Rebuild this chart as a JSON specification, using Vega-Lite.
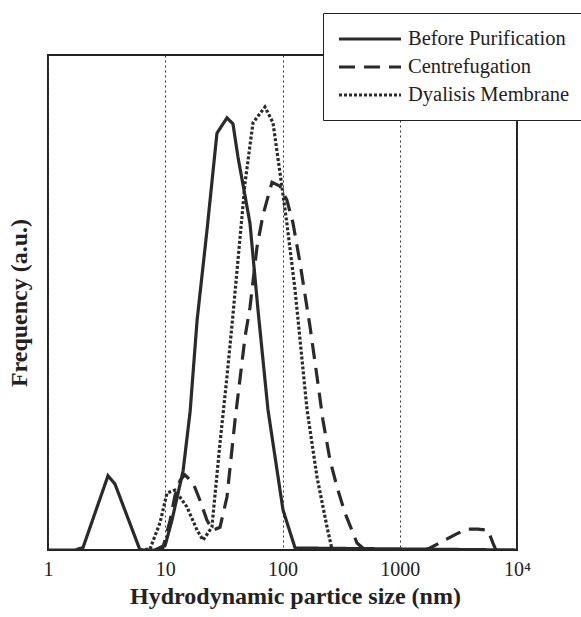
{
  "$schema": "https://vega.github.io/schema/vega-lite/v6.json",
  "autosize": "none",
  "width": 469,
  "height": 495,
  "padding": {"left": 48, "top": 55, "right": 64, "bottom": 67},
  "background": "white",
  "config": {
    "view": {"stroke": "#222", "strokeWidth": 2},
    "font": "Liberation Serif"
  },
  "data": {
    "values": [
      {"series": "Before Purification", "size": 1.0, "freq": 0},
      {"series": "Before Purification", "size": 1.7, "freq": 0},
      {"series": "Before Purification", "size": 1.99, "freq": 0.005},
      {"series": "Before Purification", "size": 2.52, "freq": 0.075},
      {"series": "Before Purification", "size": 3.25, "freq": 0.15},
      {"series": "Before Purification", "size": 3.73, "freq": 0.133},
      {"series": "Before Purification", "size": 6.09, "freq": 0},
      {"series": "Before Purification", "size": 8.18, "freq": 0},
      {"series": "Before Purification", "size": 10.0, "freq": 0.01},
      {"series": "Before Purification", "size": 11.4, "freq": 0.06},
      {"series": "Before Purification", "size": 14.2, "freq": 0.16},
      {"series": "Before Purification", "size": 16.3, "freq": 0.28},
      {"series": "Before Purification", "size": 18.7, "freq": 0.465},
      {"series": "Before Purification", "size": 22.7, "freq": 0.646},
      {"series": "Before Purification", "size": 27.6, "freq": 0.842},
      {"series": "Before Purification", "size": 33.6, "freq": 0.873},
      {"series": "Before Purification", "size": 37.8, "freq": 0.861},
      {"series": "Before Purification", "size": 41.7, "freq": 0.794},
      {"series": "Before Purification", "size": 47.8, "freq": 0.717},
      {"series": "Before Purification", "size": 52.8, "freq": 0.66},
      {"series": "Before Purification", "size": 61.8, "freq": 0.485},
      {"series": "Before Purification", "size": 75.2, "freq": 0.283},
      {"series": "Before Purification", "size": 101, "freq": 0.081},
      {"series": "Before Purification", "size": 128, "freq": 0.004},
      {"series": "Before Purification", "size": 10000, "freq": 0},

      {"series": "Centrefugation", "size": 8.18, "freq": 0},
      {"series": "Centrefugation", "size": 9.57, "freq": 0.005},
      {"series": "Centrefugation", "size": 11.0, "freq": 0.06},
      {"series": "Centrefugation", "size": 12.1, "freq": 0.11},
      {"series": "Centrefugation", "size": 13.4, "freq": 0.141},
      {"series": "Centrefugation", "size": 14.7, "freq": 0.152},
      {"series": "Centrefugation", "size": 17.3, "freq": 0.135},
      {"series": "Centrefugation", "size": 19.8, "freq": 0.10},
      {"series": "Centrefugation", "size": 22.7, "freq": 0.06},
      {"series": "Centrefugation", "size": 25.5, "freq": 0.04},
      {"series": "Centrefugation", "size": 29.3, "freq": 0.046},
      {"series": "Centrefugation", "size": 33.6, "freq": 0.107},
      {"series": "Centrefugation", "size": 39.4, "freq": 0.263},
      {"series": "Centrefugation", "size": 47.9, "freq": 0.43},
      {"series": "Centrefugation", "size": 52.8, "freq": 0.49},
      {"series": "Centrefugation", "size": 60.6, "freq": 0.612},
      {"series": "Centrefugation", "size": 68.2, "freq": 0.677},
      {"series": "Centrefugation", "size": 81.4, "freq": 0.743},
      {"series": "Centrefugation", "size": 95.2, "freq": 0.735},
      {"series": "Centrefugation", "size": 109, "freq": 0.707},
      {"series": "Centrefugation", "size": 123, "freq": 0.66},
      {"series": "Centrefugation", "size": 141, "freq": 0.58},
      {"series": "Centrefugation", "size": 172, "freq": 0.45},
      {"series": "Centrefugation", "size": 197, "freq": 0.35},
      {"series": "Centrefugation", "size": 221, "freq": 0.263},
      {"series": "Centrefugation", "size": 254, "freq": 0.182},
      {"series": "Centrefugation", "size": 292, "freq": 0.127},
      {"series": "Centrefugation", "size": 341, "freq": 0.075},
      {"series": "Centrefugation", "size": 432, "freq": 0.014},
      {"series": "Centrefugation", "size": 506, "freq": 0},
      {"series": "Centrefugation", "size": 1640, "freq": 0},
      {"series": "Centrefugation", "size": 1811, "freq": 0.004},
      {"series": "Centrefugation", "size": 2431, "freq": 0.02},
      {"series": "Centrefugation", "size": 3140, "freq": 0.034},
      {"series": "Centrefugation", "size": 3743, "freq": 0.042},
      {"series": "Centrefugation", "size": 4645, "freq": 0.042},
      {"series": "Centrefugation", "size": 5658, "freq": 0.04},
      {"series": "Centrefugation", "size": 6240, "freq": 0.014},
      {"series": "Centrefugation", "size": 6610, "freq": 0},

      {"series": "Dyalisis Membrane", "size": 6.09, "freq": 0},
      {"series": "Dyalisis Membrane", "size": 7.41, "freq": 0.002},
      {"series": "Dyalisis Membrane", "size": 9.02, "freq": 0.055},
      {"series": "Dyalisis Membrane", "size": 10.35, "freq": 0.115},
      {"series": "Dyalisis Membrane", "size": 12.1, "freq": 0.121},
      {"series": "Dyalisis Membrane", "size": 15.3, "freq": 0.087},
      {"series": "Dyalisis Membrane", "size": 18.7, "freq": 0.04},
      {"series": "Dyalisis Membrane", "size": 21.0, "freq": 0.02},
      {"series": "Dyalisis Membrane", "size": 25.0, "freq": 0.046},
      {"series": "Dyalisis Membrane", "size": 29.3, "freq": 0.216},
      {"series": "Dyalisis Membrane", "size": 33.6, "freq": 0.35},
      {"series": "Dyalisis Membrane", "size": 37.8, "freq": 0.475},
      {"series": "Dyalisis Membrane", "size": 47.9, "freq": 0.741},
      {"series": "Dyalisis Membrane", "size": 56.0, "freq": 0.863},
      {"series": "Dyalisis Membrane", "size": 70.9, "freq": 0.895},
      {"series": "Dyalisis Membrane", "size": 83.0, "freq": 0.863},
      {"series": "Dyalisis Membrane", "size": 95.2, "freq": 0.762},
      {"series": "Dyalisis Membrane", "size": 109, "freq": 0.66},
      {"series": "Dyalisis Membrane", "size": 128, "freq": 0.525},
      {"series": "Dyalisis Membrane", "size": 162, "freq": 0.283},
      {"series": "Dyalisis Membrane", "size": 197, "freq": 0.147},
      {"series": "Dyalisis Membrane", "size": 240, "freq": 0.046},
      {"series": "Dyalisis Membrane", "size": 264, "freq": 0.002},
      {"series": "Dyalisis Membrane", "size": 300, "freq": 0}
    ]
  },
  "mark": {"type": "line", "strokeWidth": 3.2, "color": "#2a2a2a", "clip": true},
  "encoding": {
    "x": {
      "field": "size",
      "type": "quantitative",
      "scale": {"type": "log", "domain": [1, 10000], "nice": false},
      "axis": {
        "values": [1, 10, 100, 1000, 10000],
        "labelExpr": "datum.value == 10000 ? '10⁴' : format(datum.value, 'd')",
        "title": "Hydrodynamic partice size (nm)",
        "titleFont": "Liberation Serif",
        "titleFontSize": 24,
        "titleFontWeight": "bold",
        "titleColor": "#222",
        "titlePadding": 5,
        "titleX": 247,
        "labelFont": "Liberation Serif",
        "labelFontSize": 20,
        "labelColor": "#222",
        "labelPadding": 9,
        "labelFlush": false,
        "ticks": false,
        "domain": false,
        "grid": true,
        "gridColor": "#333",
        "gridWidth": 1,
        "gridDash": [2, 3]
      }
    },
    "y": {
      "field": "freq",
      "type": "quantitative",
      "scale": {"domain": [0, 1], "nice": false},
      "axis": {
        "title": "Frequency (a.u.)",
        "titleFont": "Liberation Serif",
        "titleFontSize": 24,
        "titleFontWeight": "bold",
        "titleColor": "#222",
        "titlePadding": 17,
        "labels": false,
        "ticks": false,
        "domain": false,
        "grid": false
      }
    },
    "strokeDash": {
      "field": "series",
      "type": "nominal",
      "scale": {
        "domain": ["Before Purification", "Centrefugation", "Dyalisis Membrane"],
        "range": [[1, 0], [16, 9], [3, 2]]
      },
      "legend": {
        "title": null,
        "orient": "none",
        "legendX": 275,
        "legendY": -42,
        "symbolType": "M-1,0L5.2,0",
        "symbolSize": 400,
        "symbolStrokeWidth": 3.2,
        "symbolStrokeColor": "#2a2a2a",
        "labelFont": "Liberation Serif",
        "labelFontSize": 20.5,
        "labelColor": "#222",
        "labelOffset": 47,
        "rowPadding": 5,
        "padding": 14,
        "strokeColor": "#222",
        "fillColor": "white",
        "labelLimit": 300
      }
    }
  }
}
